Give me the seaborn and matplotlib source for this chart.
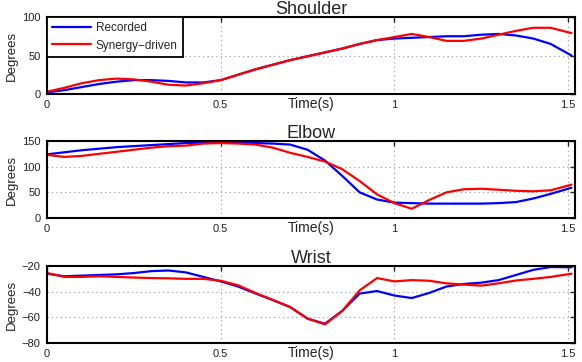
import numpy as np
import pandas as pd
import matplotlib
matplotlib.use("Agg")
import matplotlib.pyplot as plt
import seaborn as sns

# time samples (s) and joint angles (deg)
time_s = [0.0, 0.05, 0.1, 0.15, 0.2, 0.25, 0.3, 0.35, 0.4, 0.45,
          0.5, 0.55, 0.6, 0.65, 0.7, 0.75, 0.8, 0.85, 0.9, 0.95,
          1.0, 1.05, 1.1, 1.15, 1.2, 1.25, 1.3, 1.35, 1.4, 1.45, 1.51]

shoulder_rec = [2, 5, 9, 13, 16, 18, 18, 17, 15, 15,
                18, 25, 32, 38, 44, 49, 54, 59, 65, 70,
                72, 73, 74, 75, 75, 77, 78, 76, 72, 65, 50]
shoulder_syn = [3, 8, 14, 18, 20, 19, 16, 12, 11, 14,
                18, 25, 32, 38, 44, 49, 54, 59, 65, 70,
                74, 78, 74, 69, 69, 72, 77, 82, 86, 86, 79]

elbow_rec = [124, 128, 132, 135, 138, 140, 142, 144, 146, 147,
             147, 147, 146, 145, 143, 133, 112, 82, 50, 36,
             30, 29, 28, 28, 28, 28, 29, 31, 38, 47, 59]
elbow_syn = [123, 119, 121, 125, 129, 133, 137, 140, 141, 145,
             146, 145, 143, 137, 127, 119, 110, 95, 72, 46,
             29, 18, 35, 50, 56, 57, 55, 53, 52, 54, 65]

wrist_rec = [-26, -28, -27.5, -27, -26.5, -25.5, -24, -23.5, -25, -28.5,
             -32, -36, -41.4, -46.5, -52, -61, -65, -55, -41.5, -39.5,
             -43, -45, -41, -36, -34, -33, -31, -27, -23, -20.8, -21]
wrist_syn = [-25.4, -28.5, -28.5, -28, -28.5, -29, -29.4, -29.6, -30, -30,
             -31.5, -35, -41, -46.5, -52, -61, -65.5, -55, -39, -29.4,
             -32, -31, -31.5, -33.5, -34.5, -35.3, -33.5, -31.3, -30, -28.5, -26]

joints = ["Shoulder", "Elbow", "Wrist"]
recorded = [shoulder_rec, elbow_rec, wrist_rec]
synergy = [shoulder_syn, elbow_syn, wrist_syn]
y_ticks = [[0, 50, 100], [0, 50, 100, 150], [-80, -60, -40, -20]]
x_ticks = [0, 0.5, 1, 1.5]
x_tick_labels = ["0", "0.5", "1", "1.5"]
series_names = ["Recorded", "Synergy\u2212driven"]
palette = {series_names[0]: "#0000ff", series_names[1]: "#ff0000"}

sns.set_style("white")
plt.rcParams["font.family"] = ["Liberation Sans", "DejaVu Sans"]
plt.rcParams["axes.unicode_minus"] = True

fig = plt.figure(figsize=(5.82, 3.62), dpi=100)
left, width = 47 / 582, 528 / 582
tops = [17, 141, 266]
height = 77 / 362

for i, joint in enumerate(joints):
    bottom = 1 - (tops[i] + 77) / 362
    ax = fig.add_axes([left, bottom, width, height])
    df = pd.DataFrame({
        "time": time_s * 2,
        "angle": recorded[i] + synergy[i],
        "series": [series_names[0]] * len(time_s) + [series_names[1]] * len(time_s),
    })
    sns.lineplot(data=df, x="time", y="angle", hue="series", palette=palette,
                 hue_order=series_names, sort=False, errorbar=None,
                 linewidth=1.6, ax=ax, legend=(i == 0))

    ax.set_xlim(0, 1.52)
    ax.set_ylim(y_ticks[i][0], y_ticks[i][-1])
    ax.set_xticks(x_ticks)
    ax.set_xticklabels(x_tick_labels)
    ax.set_yticks(y_ticks[i])
    ax.grid(True, linestyle=(0, (1, 3)), color="#999999", linewidth=0.8)
    ax.tick_params(direction="in", length=3.5, width=1, top=True, right=True,
                   labelsize=8, labelcolor="#222222", pad=4.5)
    for s in ax.spines.values():
        s.set_linewidth(1.5)
        s.set_color("black")
        s.set_visible(True)
    ax.set_title(joint, fontsize=13, pad=2)
    ax.set_xlabel("Time(s)", fontsize=10, color="#222222")
    ax.xaxis.set_label_coords(0.5, -0.045)
    ax.set_ylabel("Degrees", fontsize=9.5, color="#222222")
    ax.yaxis.set_label_coords(-0.055, 0.5)

    if i == 0:
        leg = ax.legend(loc="upper left", bbox_to_anchor=(0, 1), borderaxespad=0,
                        fontsize=8.5, handlelength=3.3, handletextpad=0.4,
                        fancybox=False, framealpha=1, edgecolor="black",
                        borderpad=0.45, labelspacing=0.45)
        leg.get_frame().set_linewidth(1.3)
        leg.set_title(None)

fig.savefig("out.png", dpi=100)
